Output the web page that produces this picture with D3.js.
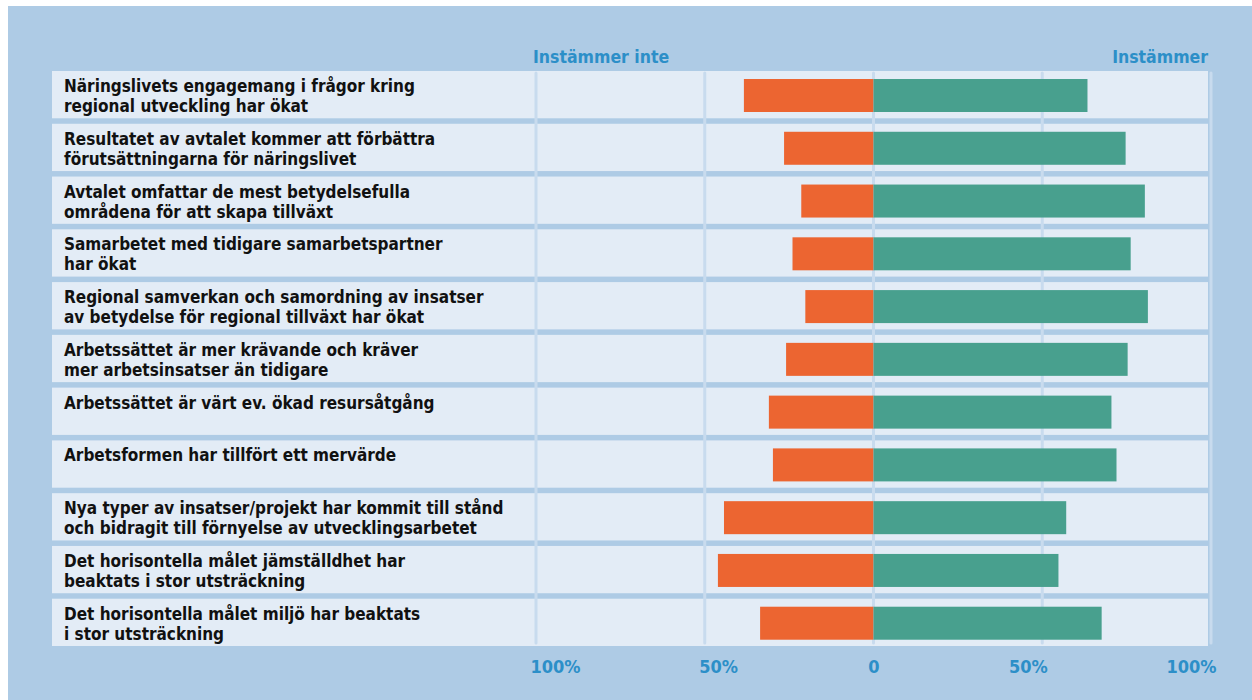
<!DOCTYPE html>
<html>
<head>
<meta charset="utf-8">
<script src="https://cdn.jsdelivr.net/npm/d3@7"></script>
<style>
    html, body { margin: 0; padding: 0; background: #ffffff; }
    svg { display: block; }
    .label { font-family: "DejaVu Sans Condensed", "Liberation Sans Narrow", Roboto, sans-serif; font-stretch: condensed; }
</style>
</head>
<body>
<svg id="chart"></svg>
<script>
// Statements (each split over the two lines used in the chart)
const categories = [
    ["Näringslivets engagemang i frågor kring", "regional utveckling har ökat"],
    ["Resultatet av avtalet kommer att förbättra", "förutsättningarna för näringslivet"],
    ["Avtalet omfattar de mest betydelsefulla", "områdena för att skapa tillväxt"],
    ["Samarbetet med tidigare samarbetspartner", "har ökat"],
    ["Regional samverkan och samordning av insatser", "av betydelse för regional tillväxt har ökat"],
    ["Arbetssättet är mer krävande och kräver", "mer arbetsinsatser än tidigare"],
    ["Arbetssättet är värt ev. ökad resursåtgång"],
    ["Arbetsformen har tillfört ett mervärde"],
    ["Nya typer av insatser/projekt har kommit till stånd", "och bidragit till förnyelse av utvecklingsarbetet"],
    ["Det horisontella målet jämställdhet har", "beaktats i stor utsträckning"],
    ["Det horisontella målet miljö har beaktats", "i stor utsträckning"]
];

// Share (%) that does not agree / agrees
const disagree = [38.4, 26.5, 21.4, 24, 20.2, 25.9, 31, 29.8, 44.3, 46.1, 33.6];
const agree = [63.4, 74.7, 80.4, 76.2, 81.3, 75.3, 70.5, 72, 57.1, 54.8, 67.6];

// Axis ticks
const ticks = [-100, -50, 0, 50, 100];
const headers = ["Instämmer inte", "Instämmer"];

const width = 1252, height = 700;
const blue = "#2c8fc8";

const svg = d3.select("#chart")
    .attr("width", width)
    .attr("height", height);

// Light blue background, with white strip at top and left
svg.append("rect")
    .attr("x", 8).attr("y", 6)
    .attr("width", width - 8).attr("height", height - 6)
    .attr("fill", "#aecbe5");

const x = d3.scaleLinear().domain([-100, 100]).range([536, 1211]);
const y = d3.scaleBand()
    .domain(d3.range(categories.length))
    .range([71, 646])
    .paddingInner(0.104)
    .paddingOuter(0);

// Row panels
svg.append("g")
    .selectAll("rect")
    .data(categories)
    .enter()
    .append("rect")
    .attr("x", 52)
    .attr("y", (d, i) => y(i))
    .attr("width", 1208 - 52)
    .attr("height", y.bandwidth())
    .attr("fill", "#e3ecf6");

// Vertical grid lines
svg.append("g")
    .selectAll("line")
    .data(ticks)
    .enter()
    .append("line")
    .attr("x1", d => x(d)).attr("x2", d => x(d))
    .attr("y1", 73).attr("y2", 643)
    .attr("stroke", "#c8dbee")
    .attr("stroke-width", 3)
    .attr("stroke-linecap", "round");

// Bars
const bars = svg.append("g");
const barOffset = 8, barHeight = 33;

bars.selectAll(".neg")
    .data(disagree)
    .enter()
    .append("rect")
    .attr("class", "neg")
    .attr("x", d => x(-d))
    .attr("y", (d, i) => y(i) + barOffset)
    .attr("width", d => x(0) - x(-d))
    .attr("height", barHeight)
    .attr("fill", "#ec6531");

bars.selectAll(".pos")
    .data(agree)
    .enter()
    .append("rect")
    .attr("class", "pos")
    .attr("x", x(0))
    .attr("y", (d, i) => y(i) + barOffset)
    .attr("width", d => x(d) - x(0))
    .attr("height", barHeight)
    .attr("fill", "#48a08e");

// Category labels
const labels = svg.append("g")
    .selectAll("text")
    .data(categories)
    .enter()
    .append("text")
    .attr("class", "label")
    .attr("x", 64)
    .attr("y", (d, i) => y(i) + 21)
    .attr("font-size", 17)
    .attr("font-weight", "bold")
    .attr("fill", "#111111");

labels.selectAll("tspan")
    .data(d => d)
    .enter()
    .append("tspan")
    .attr("x", 64)
    .attr("dy", (d, i) => i === 0 ? 0 : 20)
    .text(d => d);

// Header labels above the grid
svg.append("text")
    .attr("class", "label")
    .attr("x", 533).attr("y", 63)
    .attr("font-size", 17.5)
    .attr("font-weight", "bold")
    .attr("fill", blue)
    .text(headers[0]);

svg.append("text")
    .attr("class", "label")
    .attr("x", 1208).attr("y", 63)
    .attr("text-anchor", "end")
    .attr("font-size", 17.5)
    .attr("font-weight", "bold")
    .attr("fill", blue)
    .text(headers[1]);

// Bottom axis: absolute percentages
const axis = svg.append("g")
    .attr("transform", "translate(0,646)")
    .call(d3.axisBottom(x)
        .tickValues(ticks)
        .tickSize(0)
        .tickFormat(d => d === 0 ? "0" : Math.abs(d) + "%"));

axis.select(".domain").remove();
axis.selectAll("text")
    .attr("class", "label")
    .attr("y", 27)
    .attr("dy", 0)
    .attr("font-size", 18)
    .attr("font-weight", "bold")
    .attr("fill", blue)
    .attr("text-anchor", d => d < 0 ? "start" : d > 0 ? "end" : "middle")
    .attr("dx", d => d < 0 ? -6 : d > 0 ? 5 : 0);
</script>
</body>
</html>
